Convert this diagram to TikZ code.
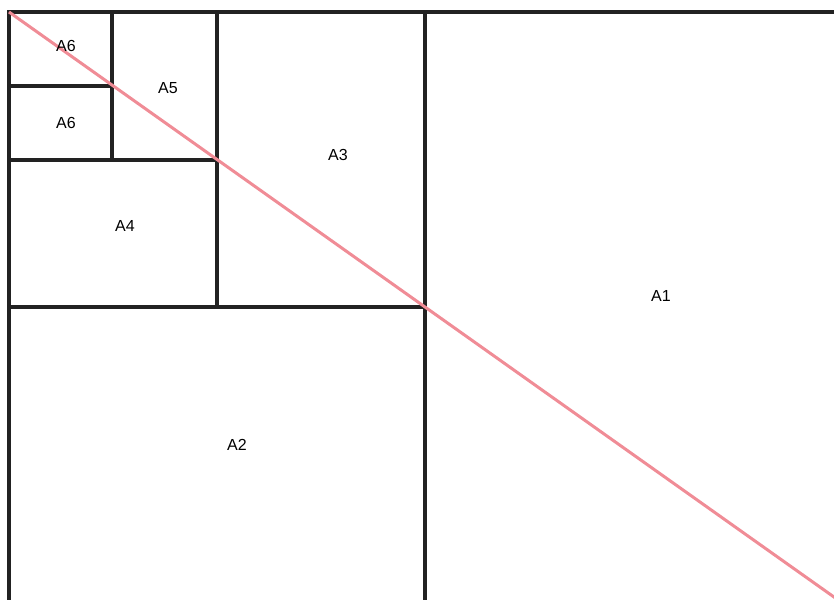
\documentclass[tikz,border=0pt]{standalone}
\usepackage{fontspec}
\setmainfont{Liberation Sans}
\definecolor{sheetline}{RGB}{34, 34, 34}
\definecolor{diag}{RGB}{240, 140, 150}
\tikzset{
    sheet/.style={draw=sheetline, line width=3.5pt},
    diagline/.style={draw=diag, line width=3pt},
    label/.style={font=\fontsize{16}{19}\selectfont, text=black, inner sep=1pt}
}
\begin{document}
\begin{tikzpicture}[x=1pt, y=-1pt]
    \useasboundingbox (0,0) rectangle (834,599);
    \clip (0,0) rectangle (834,599);
    % corners of the sheets
    \coordinate (tl) at (9,12);
    \coordinate (br) at (841,602);
    % sheet outlines
    \draw[sheet] (tl) rectangle (br);
    \draw[sheet] (425,12) -- (425,602);
    \draw[sheet] (9,307) -- (425,307);
    \draw[sheet] (217,12) -- (217,307);
    \draw[sheet] (9,160) -- (217,160);
    \draw[sheet] (112,12) -- (112,160);
    \draw[sheet] (9,86) -- (112,86);
    % diagonal
    \draw[diagline] (tl) -- (br);
    % labels
    \node[label] (a1) at (661,296) {A1};
    \node[label] (a2) at (237,445) {A2};
    \node[label] (a3) at (338,155) {A3};
    \node[label] (a4) at (125,226) {A4};
    \node[label] (a5) at (168,88) {A5};
    \node[label] (a6t) at (66,46) {A6};
    \node[label] (a6b) at (66,123) {A6};
\end{tikzpicture}
\end{document}
